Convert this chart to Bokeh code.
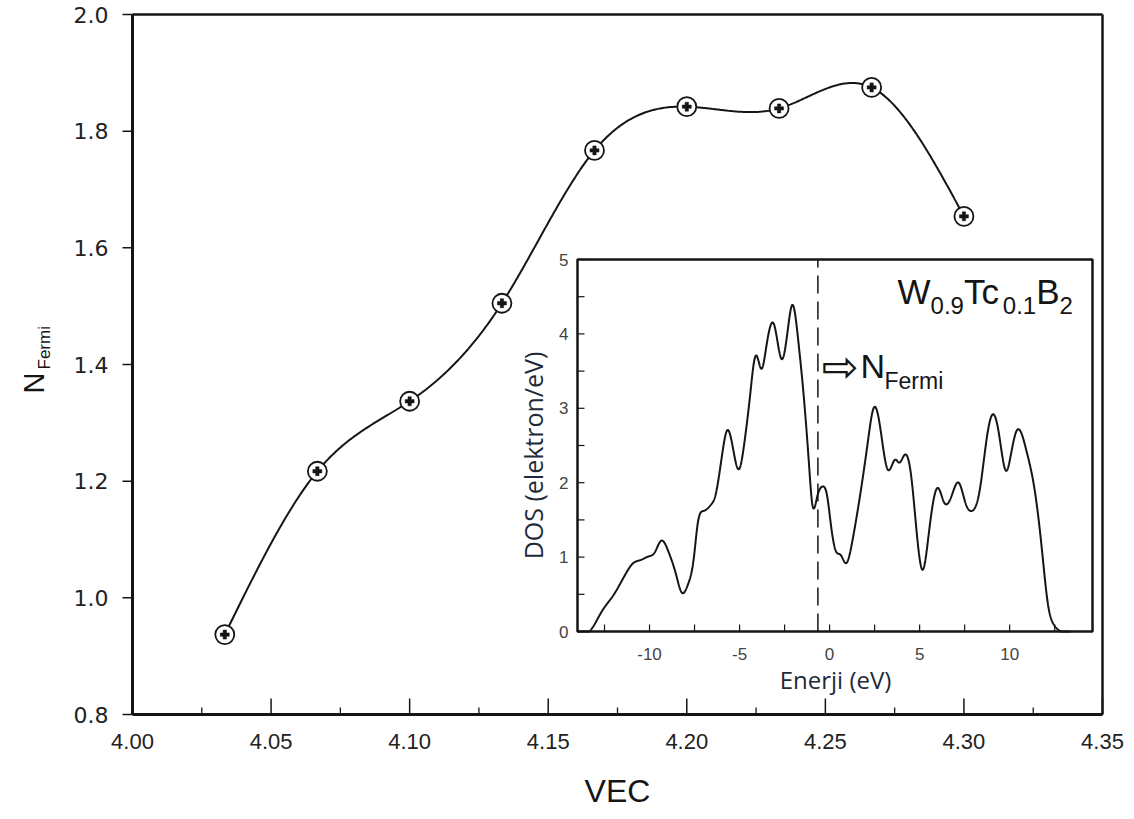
import numpy as np
from bokeh.plotting import figure
from bokeh.models import Range1d
from bokeh.core.properties import value
from bokeh.embed import file_html
from bokeh.resources import INLINE

# ---------------- data ----------------
vec = [4.0333, 4.0667, 4.1000, 4.1333, 4.1667, 4.2000, 4.2333, 4.2667, 4.3000]
n_fermi = [0.937, 1.217, 1.337, 1.505, 1.767, 1.842, 1.839, 1.875, 1.654]

energy = [-14.0, -13.35, -12.65, -12.0, -11.24, -10.9, -10.5, -10.04, -9.72, -9.35,
          -8.96, -8.52, -8.2, -7.87, -7.54, -7.33, -7.0, -6.57, -6.35, -6.13,
          -5.91, -5.7, -5.37, -5.04, -4.72, -4.39, -4.22, -4.07, -3.78, -3.52,
          -3.09, -2.65, -2.33, -2.07, -1.74, -1.46, -1.13, -0.96, -0.7, -0.37,
          -0.15, 0.07, 0.35, 0.61, 0.93, 1.26, 1.7, 2.13, 2.46, 2.78,
          3.22, 3.65, 3.87, 4.2, 4.52, 4.85, 5.17, 5.5, 6.0, 6.37,
          6.8, 7.17, 7.57, 7.89, 8.33, 8.76, 9.09, 9.41, 9.8, 10.07,
          10.39, 10.93, 11.37, 11.8, 12.13, 12.46, 12.78, 13.4]
dos = [0.0, 0.0, 0.27, 0.49, 0.81, 0.92, 0.96, 1.01, 1.06, 1.22,
       1.08, 0.76, 0.52, 0.63, 0.99, 1.44, 1.62, 1.71, 1.82, 2.11,
       2.47, 2.70, 2.47, 2.18, 2.56, 3.23, 3.59, 3.71, 3.53, 3.82,
       4.13, 3.66, 4.04, 4.39, 3.91, 3.23, 2.20, 1.71, 1.80, 1.95,
       1.84, 1.44, 1.08, 1.03, 0.92, 1.21, 1.84, 2.56, 3.01, 2.79,
       2.18, 2.31, 2.27, 2.38, 2.11, 1.30, 0.83, 1.30, 1.93, 1.73,
       1.84, 2.00, 1.71, 1.62, 1.89, 2.65, 2.92, 2.65, 2.16, 2.38,
       2.70, 2.43, 1.93, 1.08, 0.36, 0.09, 0.01, 0.0]
fermi_level = -0.65

main_x_range = [4.00, 4.35]
main_y_range = [0.8, 2.0]
main_x_ticks = [4.00, 4.05, 4.10, 4.15, 4.20, 4.25, 4.30, 4.35]
main_x_minor = [4.025, 4.075, 4.125, 4.175, 4.225, 4.275, 4.325]
main_y_ticks = [0.8, 1.0, 1.2, 1.4, 1.6, 1.8, 2.0]
main_x_labels = ["4.00", "4.05", "4.10", "4.15", "4.20", "4.25", "4.30", "4.35"]
main_y_labels = ["0.8", "1.0", "1.2", "1.4", "1.6", "1.8", "2.0"]

inset_x_range = [-14.0, 14.6]
inset_y_range = [0.0, 5.0]
inset_x_ticks = [-10, -5, 0, 5, 10]
inset_x_minor = [-12.5, -7.5, -2.5, 2.5, 7.5, 12.5]
inset_y_ticks = [0, 1, 2, 3, 4, 5]
inset_y_minor = [0.5, 1.5, 2.5, 3.5, 4.5]


def natural_spline(x, y, n=600):
    x = np.asarray(x, float)
    y = np.asarray(y, float)
    k = len(x)
    h = np.diff(x)
    A = np.zeros((k, k))
    b = np.zeros(k)
    A[0, 0] = A[-1, -1] = 1.0
    for i in range(1, k - 1):
        A[i, i - 1] = h[i - 1]
        A[i, i] = 2 * (h[i - 1] + h[i])
        A[i, i + 1] = h[i]
        b[i] = 6 * ((y[i + 1] - y[i]) / h[i] - (y[i] - y[i - 1]) / h[i - 1])
    M = np.linalg.solve(A, b)
    xs = np.linspace(x[0], x[-1], n)
    idx = np.clip(np.searchsorted(x, xs) - 1, 0, k - 2)
    x0, x1 = x[idx], x[idx + 1]
    hh = x1 - x0
    a = (x1 - xs) / hh
    bb = (xs - x0) / hh
    ys = a * y[idx] + bb * y[idx + 1] + ((a ** 3 - a) * M[idx] + (bb ** 3 - bb) * M[idx + 1]) * hh ** 2 / 6
    return xs, ys


# ---------------- layout (pixels) ----------------
W, H = 1134, 819
FL, FR, FT, FB = 132, 1102, 14, 714          # main plot box
IL, IR, IT, IB = 577, 1092, 259, 631         # inset box

mx_per_px = (main_x_range[1] - main_x_range[0]) / (FR - FL)
my_per_px = (main_y_range[1] - main_y_range[0]) / (FB - FT)
ix_per_px = (inset_x_range[1] - inset_x_range[0]) / (IR - IL)
iy_per_px = (inset_y_range[1] - inset_y_range[0]) / (IB - IT)

# the plotting frame spans the whole canvas; ranges are extended so the data box lands on the plot box
p = figure(width=W, height=H,
           x_range=Range1d(main_x_range[0] - FL * mx_per_px, main_x_range[1] + (W - FR) * mx_per_px),
           y_range=Range1d(main_y_range[0] - (H - FB) * my_per_px, main_y_range[1] + FT * my_per_px),
           output_backend="svg", toolbar_location=None, x_axis_location=None, y_axis_location=None,
           min_border=0, min_border_left=0, min_border_right=0, min_border_top=0, min_border_bottom=0)
p.xgrid.visible = False
p.ygrid.visible = False
p.outline_line_color = None
p.background_fill_color = "white"
p.border_fill_color = "white"

p.extra_x_ranges = {"ix": Range1d(inset_x_range[0] - IL * ix_per_px, inset_x_range[1] + (W - IR) * ix_per_px)}
p.extra_y_ranges = {"iy": Range1d(inset_y_range[0] - (H - IB) * iy_per_px, inset_y_range[1] + IT * iy_per_px)}
R = dict(x_range_name="ix", y_range_name="iy")


def MX(px):
    return main_x_range[0] + (px - FL) * mx_per_px


def MY(py):
    return main_y_range[0] + (FB - py) * my_per_px


def IX(px):
    return inset_x_range[0] + (px - IL) * ix_per_px


def IY(py):
    return inset_y_range[0] + (IB - py) * iy_per_px


INK = "#151515"
xlo, xhi = main_x_range
ylo, yhi = main_y_range

# ---- main box: top/right borders, thicker left/bottom axes ----
p.segment(x0=[xlo, xhi], y0=[yhi, ylo], x1=[xhi, xhi], y1=[yhi, yhi], line_color=INK, line_width=2.5)
p.segment(x0=[xlo, xlo], y0=[ylo, ylo], x1=[xhi, xlo], y1=[ylo, yhi], line_color=INK, line_width=3)

# x ticks (inward), y ticks (outward)
p.segment(x0=main_x_ticks, y0=[ylo] * len(main_x_ticks), x1=main_x_ticks,
          y1=[ylo + 16 * my_per_px] * len(main_x_ticks), line_color=INK, line_width=1.5)
p.segment(x0=main_x_minor, y0=[ylo] * len(main_x_minor), x1=main_x_minor,
          y1=[ylo + 7 * my_per_px] * len(main_x_minor), line_color=INK, line_width=1.3)
p.segment(x0=[xlo] * len(main_y_ticks), y0=main_y_ticks, x1=[xlo - 10 * mx_per_px] * len(main_y_ticks),
          y1=main_y_ticks, line_color=INK, line_width=1.5)

# tick labels
p.text(x=main_x_ticks, y=[MY(741)] * len(main_x_ticks), text=main_x_labels,
       text_align="center", text_baseline="middle", text_font=value("Liberation Sans"),
       text_font_size="22px", text_color="#222222")
p.text(x=[MX(108)] * len(main_y_ticks), y=main_y_ticks, text=main_y_labels,
       text_align="right", text_baseline="middle", text_font=value("DejaVu Sans"),
       text_font_size="22px", text_color="#222222")

# axis titles
p.text(x=[(xlo + xhi) / 2], y=[MY(790)], text=["VEC"], text_align="center", text_baseline="middle",
       text_font=value("Liberation Sans"), text_font_size="32px", text_color=INK)
p.text(x=[MX(33)], y=[MY(393)], text=["N"], angle=np.pi / 2, text_align="left",
       text_baseline="middle", text_font=value("Liberation Sans"), text_font_size="29px",
       text_color=INK)
p.text(x=[MX(44)], y=[MY(369)], text=["Fermi"], angle=np.pi / 2, text_align="left",
       text_baseline="middle", text_font=value("Liberation Sans"), text_font_size="17px",
       text_color=INK)

# ---- main series ----
sx, sy = natural_spline(vec, n_fermi, 600)
p.line(sx, sy, line_color=INK, line_width=2)
p.scatter(vec, n_fermi, marker="circle", size=19, fill_color="white", line_color=INK, line_width=1.8)
p.scatter(vec, n_fermi, marker="plus", size=9, fill_color=INK, line_color=INK, line_width=0.5)

# ---------------- inset ----------------
exlo, exhi = inset_x_range
eylo, eyhi = inset_y_range
p.quad(left=exlo, right=exhi, bottom=eylo, top=eyhi, fill_color="white", line_color=INK,
       line_width=2.5, **R)

dx, dy = natural_spline(energy, dos, 2000)
dy = np.clip(dy, 0, None)
p.line(dx, dy, line_color=INK, line_width=2, **R)

p.segment(x0=[fermi_level], y0=[eylo], x1=[fermi_level], y1=[eyhi],
          line_color=INK, line_width=1.5, line_dash="18 8", **R)

tick_len = 7
xt = inset_x_ticks + inset_x_minor
p.segment(x0=xt, y0=[eylo] * len(xt), x1=xt, y1=[eylo + tick_len * iy_per_px] * len(xt),
          line_color=INK, line_width=1.2, **R)
yt = inset_y_ticks + inset_y_minor
p.segment(x0=[exlo] * len(yt), y0=yt, x1=[exlo + tick_len * ix_per_px] * len(yt), y1=yt,
          line_color=INK, line_width=1.2, **R)

p.text(x=[IX(568)] * len(inset_y_ticks), y=inset_y_ticks, text=[str(v) for v in inset_y_ticks],
       text_align="right", text_baseline="middle", text_font=value("Liberation Sans"),
       text_font_size="17px", text_color="#444444", **R)
p.text(x=inset_x_ticks, y=[IY(653)] * len(inset_x_ticks), text=[str(v) for v in inset_x_ticks],
       text_align="center", text_baseline="middle", text_font=value("Liberation Sans"),
       text_font_size="17px", text_color="#444444", **R)

p.text(x=[IX(532)], y=[IY(455)], text=["DOS (elektron/eV)"], angle=np.pi / 2,
       text_align="center", text_baseline="middle",
       text_font=value("Open Sans"), text_font_size="25px", text_color="#1e2a38", **R)
p.text(x=[IX(835)], y=[IY(679)], text=["Enerji (eV)"],
       text_align="center", text_baseline="middle",
       text_font=value("Open Sans"), text_font_size="24px", text_color="#1e2a38", **R)

# compound label W0.9Tc0.1B2 (pieces laid out by font advance widths)
big_px, small_px = 35, 24
pieces_text = ["W", "0.9", "Tc", "0.1", "B", "2"]
pieces_em = [0.944, 1.39, 1.111, 1.39, 0.667, 0.556]
pieces_big = [True, False, True, False, True, False]
lx = 897.0
for t, em, is_big in zip(pieces_text, pieces_em, pieces_big):
    fs = big_px if is_big else small_px
    cy = 290.5 if is_big else 304.5
    p.text(x=[IX(lx)], y=[IY(cy)], text=[t], text_align="left", text_baseline="middle",
           text_font=value("Liberation Sans"), text_font_size=f"{fs}px", text_color=INK, **R)
    lx += em * fs

# arrow + N_Fermi
p.text(x=[IX(821)], y=[IY(366)], text=["\u21e8"], text_align="left", text_baseline="middle",
       text_font=value("DejaVu Sans"), text_font_size="44px", text_color=INK, **R)
p.text(x=[IX(860)], y=[IY(365)], text=["N"], text_align="left", text_baseline="middle",
       text_font=value("Liberation Sans"), text_font_size="34px", text_color=INK, **R)
p.text(x=[IX(884)], y=[IY(380)], text=["Fermi"], text_align="left", text_baseline="middle",
       text_font=value("Liberation Sans"), text_font_size="23px", text_color=INK, **R)

open("out.html", "w").write(file_html(p, INLINE))
